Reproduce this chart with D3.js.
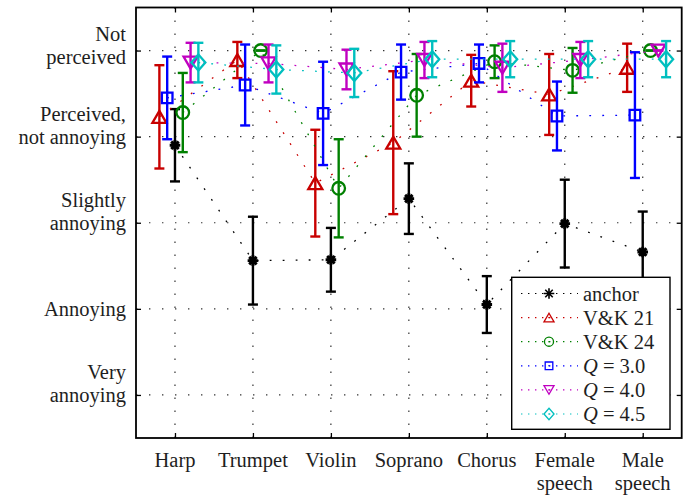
<!DOCTYPE html>
<html>
<head>
<meta charset="utf-8">
<script src="https://cdn.jsdelivr.net/npm/d3@7"></script>
<style>
  body { margin: 0; background: #fff; }
  svg { display: block; }
  text { font-family: "Liberation Serif", "Times New Roman", serif; fill: #1e1e1e; }
</style>
</head>
<body>
<svg id="chart" width="688" height="495"></svg>
<script>
// Test signals (x axis), one label line per array entry
const categories = [["Harp"], ["Trumpet"], ["Violin"], ["Soprano"], ["Chorus"], ["Female", "speech"], ["Male", "speech"]];

// Rating scale (y axis)
const ratingValues = [1, 2, 3, 4, 5];
const ratingLabels = [["Very", "annoying"], ["Annoying"], ["Slightly", "annoying"], ["Perceived,", "not annoying"], ["Not", "perceived"]];

// Mean ratings and error bar half-widths per condition
const anchorMean = [3.90, 2.56, 2.57, 3.28, 2.05, 2.99, 2.66];
const anchorErr  = [0.42, 0.51, 0.37, 0.41, 0.33, 0.51, 0.47];
const vk21Mean   = [4.23, 4.89, 3.46, 3.93, 4.65, 4.49, 4.80];
const vk21Err    = [0.60, 0.21, 0.62, 0.83, 0.30, 0.47, 0.28];
const vk24Mean   = [4.28, 5.00, 3.40, 4.48, 4.87, 4.77, 5.00];
const vk24Err    = [0.46, 0.00, 0.57, 0.48, 0.19, 0.26, 0.00];
const q30Mean    = [4.45, 4.60, 4.27, 4.75, 4.85, 4.24, 4.25];
const q30Err     = [0.48, 0.47, 0.60, 0.32, 0.22, 0.40, 0.73];
const q40Mean    = [4.86, 4.85, 4.78, 4.89, 4.80, 4.89, 5.00];
const q40Err     = [0.23, 0.22, 0.23, 0.21, 0.28, 0.21, 0.00];
const q45Mean    = [4.86, 4.78, 4.74, 4.90, 4.90, 4.90, 4.90];
const q45Err     = [0.23, 0.28, 0.28, 0.21, 0.21, 0.21, 0.21];

const series = [
  { name: ["anchor"],          mean: anchorMean, err: anchorErr, color: "#000000", marker: "asterisk", shift: 0.0 },
  { name: ["V&K 21"],          mean: vk21Mean,   err: vk21Err,   color: "#c80000", marker: "triUp",    shift: -0.2 },
  { name: ["V&K 24"],          mean: vk24Mean,   err: vk24Err,   color: "#008000", marker: "circle",   shift: 0.1 },
  { name: ["Q", " = 3.0"],     mean: q30Mean,    err: q30Err,    color: "#0000ff", marker: "square",   shift: -0.1 },
  { name: ["Q", " = 4.0"],     mean: q40Mean,    err: q40Err,    color: "#c000c0", marker: "triDown",  shift: 0.2 },
  { name: ["Q", " = 4.5"],     mean: q45Mean,    err: q45Err,    color: "#00bfbf", marker: "diamond",  shift: 0.3 }
];

const svg = d3.select("#chart");
const plot = { left: 136, right: 681.7, top: 7.5, bottom: 438 };

const x = d3.scaleLinear().domain([0.5, categories.length + 0.5]).range([plot.left, plot.right]);
const y = d3.scaleLinear().domain([0.5, 5.5]).range([plot.bottom, plot.top]);

// Dotted grid
const grid = svg.append("g").attr("stroke", "#333").attr("stroke-width", 1.2).attr("stroke-dasharray", "1.4,11.6");
ratingValues.forEach(v => {
  grid.append("line").attr("x1", plot.left).attr("x2", plot.right).attr("y1", y(v)).attr("y2", y(v));
});
categories.forEach((c, i) => {
  grid.append("line").attr("x1", x(i + 1)).attr("x2", x(i + 1)).attr("y1", plot.top).attr("y2", plot.bottom);
});

// Axes with inward ticks on all four sides
const tickLen = 5;
const yAxisL = d3.axisLeft(y).tickValues(ratingValues).tickSizeInner(-tickLen).tickSizeOuter(0).tickFormat("");
const yAxisR = d3.axisRight(y).tickValues(ratingValues).tickSizeInner(-tickLen).tickSizeOuter(0).tickFormat("");
const xAxisB = d3.axisBottom(x).tickValues(d3.range(1, categories.length + 1)).tickSizeInner(-tickLen).tickSizeOuter(0).tickFormat("");
const xAxisT = d3.axisTop(x).tickValues(d3.range(1, categories.length + 1)).tickSizeInner(-tickLen).tickSizeOuter(0).tickFormat("");

function styleAxis(g) {
  g.select(".domain").remove();
  g.selectAll(".tick line").attr("stroke", "#000").attr("stroke-width", 1.3);
}
svg.append("g").attr("transform", `translate(${plot.left},0)`).call(yAxisL).call(styleAxis);
svg.append("g").attr("transform", `translate(${plot.right},0)`).call(yAxisR).call(styleAxis);
svg.append("g").attr("transform", `translate(0,${plot.bottom})`).call(xAxisB).call(styleAxis);
svg.append("g").attr("transform", `translate(0,${plot.top})`).call(xAxisT).call(styleAxis);

// Y tick labels (multi-line, right aligned)
const fontSize = 20.5;
const lineGap = 22.5;
ratingValues.forEach((v, i) => {
  const lines = ratingLabels[i];
  let base = y(v) + 7 - (lines.length - 1) * lineGap;
  base = Math.max(base, 41);
  const t = svg.append("text").attr("text-anchor", "end").attr("font-size", fontSize);
  lines.forEach((ln, k) => {
    t.append("tspan").attr("x", 126).attr("y", base + k * lineGap).text(ln);
  });
});

// X tick labels
categories.forEach((lines, i) => {
  const t = svg.append("text").attr("text-anchor", "middle").attr("font-size", fontSize);
  lines.forEach((ln, k) => {
    t.append("tspan").attr("x", x(i + 1)).attr("y", 466.5 + k * 23.5).text(ln);
  });
});

// Marker shapes centred on the origin
function markerPath(type, s) {
  switch (type) {
    case "triUp":   return `M0,${-6 * s}L${7 * s},${6 * s}L${-7 * s},${6 * s}Z`;
    case "triDown": return `M0,${6 * s}L${7 * s},${-6 * s}L${-7 * s},${-6 * s}Z`;
    case "square":  return `M${-5.3 * s},${-5.3 * s}h${10.6 * s}v${10.6 * s}h${-10.6 * s}Z`;
    case "diamond": return `M0,${-8 * s}L${7 * s},0L0,${8 * s}L${-7 * s},0Z`;
    case "circle": {
      const r = 6.3 * s;
      return `M${r},0A${r},${r} 0 1,1 ${-r},0A${r},${r} 0 1,1 ${r},0Z`;
    }
    case "asterisk": {
      const r = 5.3 * s, d = r * Math.SQRT1_2;
      return `M${-r},0L${r},0M0,${-r}L0,${r}M${-d},${-d}L${d},${d}M${-d},${d}L${d},${-d}`;
    }
  }
}

const dataArea = svg.append("g");
series.forEach(s => {
  const g = dataArea.append("g");
  const pts = s.mean.map((m, i) => ({ cx: x(i + 1 + s.shift), m, e: s.err[i] }));

  // Connecting dotted line
  g.append("path")
    .attr("d", d3.line().x(p => p.cx).y(p => y(p.m))(pts))
    .attr("fill", "none").attr("stroke", s.color).attr("stroke-width", 1.3)
    .attr("stroke-dasharray", "1.8,11.2");

  // Error bars
  const capHalf = 5;
  pts.forEach(p => {
    const y0 = y(p.m - p.e), y1 = y(p.m + p.e);
    g.append("line").attr("x1", p.cx).attr("x2", p.cx).attr("y1", y0).attr("y2", y1)
      .attr("stroke", s.color).attr("stroke-width", 2.4);
    [y0, y1].forEach(yy => {
      g.append("line").attr("x1", p.cx - capHalf).attr("x2", p.cx + capHalf).attr("y1", yy).attr("y2", yy)
        .attr("stroke", s.color).attr("stroke-width", 2.4);
    });
  });

  // Markers
  g.selectAll("path.mk").data(pts).join("path").attr("class", "mk")
    .attr("transform", p => `translate(${p.cx},${y(p.m)})`)
    .attr("d", markerPath(s.marker, 1))
    .attr("fill", "none").attr("stroke", s.color)
    .attr("stroke-width", s.marker === "asterisk" ? 2.9 : 2.3);
});

// Plot frame
svg.append("rect").attr("x", plot.left).attr("y", plot.top)
  .attr("width", plot.right - plot.left).attr("height", plot.bottom - plot.top)
  .attr("fill", "none").attr("stroke", "#000").attr("stroke-width", 1.8);

// Legend
const legend = { left: 511.7, top: 277.3, right: 670, bottom: 429.3, row0: 293.5, rowGap: 24.1 };
const lg = svg.append("g");
lg.append("rect").attr("x", legend.left).attr("y", legend.top)
  .attr("width", legend.right - legend.left).attr("height", legend.bottom - legend.top)
  .attr("fill", "#fff").attr("stroke", "#000").attr("stroke-width", 1.4);
series.forEach((s, i) => {
  const cy = legend.row0 + i * legend.rowGap;
  lg.append("line").attr("x1", 521).attr("x2", 578).attr("y1", cy).attr("y2", cy)
    .attr("stroke", s.color).attr("stroke-width", 1.2).attr("stroke-dasharray", "1.4,5.6");
  lg.append("path").attr("transform", `translate(549,${cy})`)
    .attr("d", markerPath(s.marker, s.marker === "asterisk" ? 1 : 0.72))
    .attr("fill", "none").attr("stroke", s.color).attr("stroke-width", s.marker === "asterisk" ? 1.6 : 1.3);
  if (s.marker !== "asterisk") {
    lg.append("circle").attr("cx", 549).attr("cy", cy).attr("r", 0.8).attr("fill", s.color);
  }
  const t = lg.append("text").attr("x", 583).attr("y", cy + 7).attr("font-size", fontSize);
  if (s.name.length === 2) {
    t.append("tspan").attr("font-style", "italic").text(s.name[0]);
    t.append("tspan").text(s.name[1]);
  } else {
    t.text(s.name[0]);
  }
});
</script>
</body>
</html>
